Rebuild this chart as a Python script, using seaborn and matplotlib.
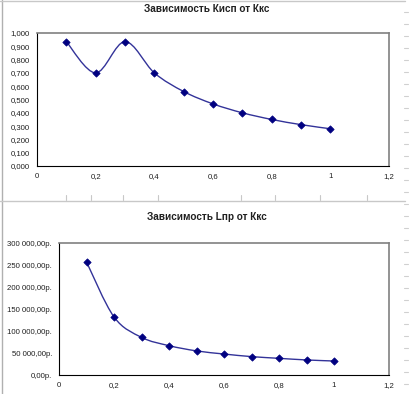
import numpy as np
import pandas as pd
import matplotlib
matplotlib.use("Agg")
import matplotlib.pyplot as plt
from matplotlib.path import Path
from matplotlib.patches import PathPatch
from matplotlib.ticker import FuncFormatter
import seaborn as sns

# data
kkc = [0.1, 0.2, 0.3, 0.4, 0.5, 0.6, 0.7, 0.8, 0.9, 1.0]
kisp = [0.935, 0.700, 0.935, 0.700, 0.560, 0.467, 0.400, 0.350, 0.311, 0.280]
lpr = [257000, 132000, 85600, 66700, 54800, 47700, 41800, 37900, 34200, 31800]

title_top = "Зависимость Кисп от Ккс"
title_bottom = "Зависимость Lпр от Ккс"

sns.set_style("white")
plt.rcParams["font.family"] = ["Liberation Sans", "DejaVu Sans"]

NAVY = "#000080"


def smooth_line(ax, xs, ys):
    # Excel-style smoothed line: bezier segments through the points
    pts = np.column_stack([xs, ys]).astype(float)
    verts = [pts[0]]
    codes = [Path.MOVETO]
    n = len(pts)
    for i in range(n - 1):
        p0 = pts[i - 1] if i > 0 else pts[i]
        p1 = pts[i]
        p2 = pts[i + 1]
        p3 = pts[i + 2] if i + 2 < n else pts[i + 1]
        c1 = p1 + (p2 - p0) / 6.0
        c2 = p2 - (p3 - p1) / 6.0
        verts += [c1, c2, p2]
        codes += [Path.CURVE4] * 3
    ax.add_patch(PathPatch(Path(verts, codes), fill=False, edgecolor=NAVY,
                           lw=1.0, alpha=0.8, zorder=2))


def style_axes(ax):
    for side in ["top", "right"]:
        ax.spines[side].set_color("#808080")
        ax.spines[side].set_linewidth(1.2)
    for side in ["left", "bottom"]:
        ax.spines[side].set_color("black")
        ax.spines[side].set_linewidth(0.8)
    ax.tick_params(axis="both", direction="out", length=3, width=0.8,
                   labelsize=5.6, pad=2, color="black", labelcolor="#202020")
    ax.set_xlim(0, 1.2)
    ax.set_xticks([0, 0.2, 0.4, 0.6, 0.8, 1.0, 1.2])
    ax.xaxis.set_major_formatter(FuncFormatter(
        lambda v, p: ("%g" % round(v, 1)).replace(".", ",")))
    ax.set_xlabel("")
    ax.set_ylabel("")


fig = plt.figure(figsize=(4.09, 3.94), dpi=100)
fig.patch.set_facecolor("white")

# top chart
ax1 = fig.add_axes([37 / 409, 228 / 394, 352 / 409, 133 / 394])
df1 = pd.DataFrame({"Ккс": kkc, "Кисп": kisp})
smooth_line(ax1, df1["Ккс"], df1["Кисп"])
sns.scatterplot(data=df1, x="Ккс", y="Кисп", ax=ax1, marker="D", s=14,
                color=NAVY, edgecolor=NAVY, linewidth=0.5, zorder=3)
style_axes(ax1)
ax1.set_ylim(0, 1.0)
ax1.set_yticks(np.arange(0, 1.01, 0.1))
ax1.yaxis.set_major_formatter(FuncFormatter(
    lambda v, p: ("%.3f" % v).replace(".", ",")))

# bottom chart
ax2 = fig.add_axes([59 / 409, 19 / 394, 330 / 409, 132 / 394])
df2 = pd.DataFrame({"Ккс": kkc, "Lпр": lpr})
smooth_line(ax2, df2["Ккс"], df2["Lпр"])
sns.scatterplot(data=df2, x="Ккс", y="Lпр", ax=ax2, marker="D", s=14,
                color=NAVY, edgecolor=NAVY, linewidth=0.5, zorder=3)
style_axes(ax2)
ax2.set_ylim(0, 300000)
ax2.set_yticks(np.arange(0, 300001, 50000))


def rub(v, p):
    s = "{:,.2f}".format(v).replace(",", " ").replace(".", ",")
    return s + "р."


ax2.yaxis.set_major_formatter(FuncFormatter(rub))

fig.text(207 / 409, 1 - 9 / 394, title_top, ha="center", va="center",
         fontsize=7.2, fontweight="bold", color="#202020")
fig.text(207 / 409, 1 - 217 / 394, title_bottom, ha="center", va="center",
         fontsize=7.2, fontweight="bold", color="#202020")

# spreadsheet lines around the charts
fig.add_artist(plt.Line2D([2 / 409, 2 / 409], [0, 1], color="#b0b0b0", lw=1))
fig.add_artist(plt.Line2D([0, 405 / 409], [1 - 1 / 394, 1 - 1 / 394],
                          color="#c8c8c8", lw=1))
fig.add_artist(plt.Line2D([0, 405 / 409], [1 - 201 / 394, 1 - 201 / 394],
                          color="#c8c8c8", lw=1))
for gx in [66, 91, 123, 158, 241, 275, 320, 367]:
    fig.add_artist(plt.Line2D([gx / 409, gx / 409],
                              [1 - 200 / 394, 1 - 195 / 394],
                              color="#c8c8c8", lw=0.8))
for gy in range(12, 394, 12):
    fig.add_artist(plt.Line2D([404 / 409, 408 / 409],
                              [1 - gy / 394, 1 - gy / 394],
                              color="#d0d0d0", lw=0.8))

fig.savefig("out.png", dpi=100)
